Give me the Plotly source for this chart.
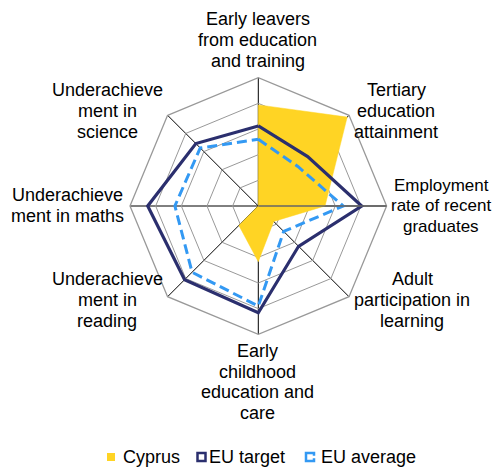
"""
Radar chart: Cyprus vs EU target and EU average
"""

import plotly.graph_objects as go

categories = [
    "Early leavers<br>from education<br>and training",
    "Tertiary<br>education<br>attainment",
    "Employment<br>rate of recent<br>graduates",
    "Adult<br>participation in<br>learning",
    "Early<br>childhood<br>education and<br>care",
    "Underachieve<br>ment in<br>reading",
    "Underachieve<br>ment in maths",
    "Underachieve<br>ment in<br>science",
]

cyprus = [3.94, 4.9, 2.6, 0.85, 2.17, 1.07, 0.0, 0.0]
eu_target = [3.12, 2.72, 4.03, 2.22, 4.16, 4.06, 4.31, 3.44]
eu_average = [2.6, 2.18, 3.31, 1.4, 3.9, 3.65, 3.25, 3.2]

series_names = ["Cyprus", "EU target", "EU average"]

FONT = "Liberation Sans, Arial, sans-serif"
YELLOW = "#FFD424"
NAVY = "#2B2F6E"
BLUE = "#3399F3"

# the page body keeps its 8px default margin; everything below is placed in
# window pixels and shifted by that margin
MARGIN = 8
W, H = 484, 460

# centre (x, y) and font size of each category label block, window pixels
label_centres = [
    (258, 40), (396, 111), (441, 206), (412, 300),
    (258, 382), (107, 300), (67, 205.5), (107, 111),
]
label_sizes = [18, 18, 17, 18, 18, 18, 18, 18]
LINE_STEP = 20.8


def px(x):
    return (x - MARGIN) / W


def py(y):
    return 1 - (y - MARGIN) / H


def _closed(values):
    """Repeat the first point so the polygon closes."""
    return values + values[:1]


fig = go.Figure()

fig.add_trace(
    go.Scatterpolar(
        r=_closed(cyprus),
        theta=_closed(categories),
        name=series_names[0],
        mode="lines",
        fill="toself",
        fillcolor=YELLOW,
        line=dict(color=YELLOW, width=0.5),
    )
)
fig.add_trace(
    go.Scatterpolar(
        r=_closed(eu_target),
        theta=_closed(categories),
        name=series_names[1],
        mode="lines",
        line=dict(color=NAVY, width=3.2),
    )
)
fig.add_trace(
    go.Scatterpolar(
        r=_closed(eu_average),
        theta=_closed(categories),
        name=series_names[2],
        mode="lines",
        line=dict(color=BLUE, width=3, dash="10px,5px"),
    )
)

# category labels, one annotation per line so the line spacing is tight
annotations = []
for label, (lx, ly), size in zip(categories, label_centres, label_sizes):
    lines = label.split("<br>")
    for i, text in enumerate(lines):
        y = ly + (i - (len(lines) - 1) / 2) * LINE_STEP
        annotations.append(
            dict(
                text=text, x=px(lx), y=py(y), xref="paper", yref="paper",
                xanchor="center", yanchor="middle", showarrow=False,
                font=dict(family=FONT, size=size, color="black"),
            )
        )

# legend drawn as in the original: small square keys and text
LEG_Y = 457
key_x = [107, 197.5, 306]
text_x = [121, 207, 319]
for name, tx in zip(series_names, text_x):
    annotations.append(
        dict(
            text=name, x=px(tx), y=py(LEG_Y), xref="paper", yref="paper",
            xanchor="left", yanchor="middle", showarrow=False,
            font=dict(family=FONT, size=18, color="black"),
        )
    )

k = 8
shapes = [
    dict(
        type="rect", xref="paper", yref="paper",
        x0=px(key_x[0]), x1=px(key_x[0] + k),
        y0=py(LEG_Y - k / 2), y1=py(LEG_Y + k / 2),
        fillcolor=YELLOW, line=dict(width=0),
    ),
    dict(
        type="rect", xref="paper", yref="paper",
        x0=px(key_x[1]), x1=px(key_x[1] + k),
        y0=py(LEG_Y - k / 2), y1=py(LEG_Y + k / 2),
        line=dict(color=NAVY, width=2.5),
    ),
]
bx0, bx1 = px(key_x[2]), px(key_x[2] + k)
by0, by1 = py(LEG_Y - k / 2), py(LEG_Y + k / 2)
gap_top, gap_bot = py(LEG_Y - 1.2), py(LEG_Y + 1.2)
shapes.append(
    dict(
        type="path", xref="paper", yref="paper",
        path=(
            f"M{bx1},{gap_top} L{bx1},{by0} L{bx0},{by0} "
            f"L{bx0},{by1} L{bx1},{by1} L{bx1},{gap_bot}"
        ),
        line=dict(color=BLUE, width=2.5),
    )
)

cx, cy, rad = 258.3, 206.0, 128.3
fig.update_layout(
    width=W,
    height=H,
    margin=dict(l=0, r=0, t=0, b=0),
    paper_bgcolor="white",
    plot_bgcolor="white",
    font=dict(family=FONT, size=18, color="black"),
    showlegend=False,
    annotations=annotations,
    shapes=shapes,
    polar=dict(
        domain=dict(x=[px(cx - rad), px(cx + rad)], y=[py(cy + rad), py(cy - rad)]),
        bgcolor="white",
        gridshape="linear",
        radialaxis=dict(
            range=[0, 5],
            dtick=1,
            showticklabels=False,
            ticks="",
            showline=True,
            angle=0,
            linecolor="#666666",
            linewidth=1.5,
            gridcolor="#999999",
            gridwidth=1.3,
        ),
        angularaxis=dict(
            direction="clockwise",
            rotation=90,
            showline=True,
            linecolor="#999999",
            linewidth=1.3,
            gridcolor="black",
            gridwidth=1,
            ticks="",
            showticklabels=False,
        ),
    ),
)

fig.write_html("out.html")
